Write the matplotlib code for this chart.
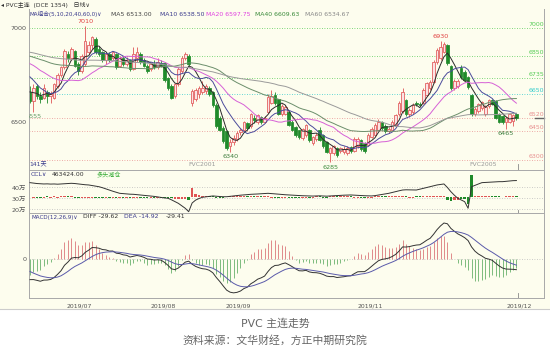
import numpy as np
import pandas as pd
import matplotlib
matplotlib.use('Agg')
import matplotlib.pyplot as plt
from matplotlib.lines import Line2D
from matplotlib.patches import Rectangle

plt.rcParams['font.family'] = ['DejaVu Sans', 'Noto Sans CJK SC']

# ---------------- data ----------------
opens = [6660, 6610, 6690, 6640, 6630, 6660, 6640, 6630, 6690, 6750,
         6790, 6860, 6840, 6880, 6810, 6770, 6810, 6870, 6910, 6940,
         6890, 6870, 6830, 6860, 6840, 6860, 6800, 6840, 6810, 6830,
         6780, 6840, 6860, 6830, 6800, 6780, 6810, 6790, 6815, 6815,
         6735, 6690, 6640, 6700, 6770, 6840, 6850, 6600, 6620, 6650,
         6660, 6665, 6680, 6660, 6590, 6520, 6470, 6450, 6370, 6395,
         6410, 6445, 6455, 6495, 6480, 6520, 6500, 6525, 6500, 6555,
         6600, 6645, 6620, 6540, 6545, 6555, 6500, 6475, 6455, 6415,
         6430, 6460, 6390, 6410, 6455, 6430, 6395, 6335, 6335, 6360,
         6345, 6340, 6335, 6365, 6345, 6370, 6405, 6390, 6380, 6420,
         6430, 6460, 6500, 6480, 6450, 6460, 6485, 6540, 6560, 6615,
         6540, 6555, 6600, 6598, 6600, 6645, 6680, 6715, 6820, 6840,
         6875, 6910, 6800, 6680, 6690, 6785, 6765, 6740, 6645, 6540,
         6560, 6575, 6540, 6585, 6615, 6610, 6545, 6530, 6500, 6500,
         6505, 6545]
highs = [6690, 6700, 6700, 6660, 6700, 6670, 6665, 6710, 6760, 6800,
         6890, 6880, 6900, 6885, 6820, 6860, 7010, 6930, 6960, 6950,
         6905, 6880, 6870, 6875, 6880, 6865, 6850, 6850, 6845, 6835,
         6900, 6900, 6870, 6840, 6810, 6820, 6830, 6840, 6830, 6820,
         6740, 6700, 6710, 6790, 6850, 6870, 6860, 6675, 6680, 6690,
         6720, 6700, 6690, 6665, 6600, 6530, 6480, 6455, 6410, 6430,
         6450, 6470, 6505, 6500, 6550, 6535, 6545, 6530, 6530, 6650,
         6670, 6660, 6625, 6595, 6590, 6560, 6510, 6480, 6460, 6470,
         6490, 6465, 6425, 6440, 6475, 6435, 6400, 6365, 6380, 6365,
         6365, 6370, 6370, 6375, 6420, 6420, 6410, 6395, 6440, 6475,
         6495, 6515, 6505, 6490, 6475, 6510, 6545, 6610, 6680, 6625,
         6575, 6600, 6610, 6605, 6680, 6715, 6725, 6830, 6895, 6930,
         6925, 6915, 6805, 6730, 6730, 6805, 6775, 6745, 6650, 6580,
         6600, 6610, 6590, 6620, 6625, 6615, 6550, 6535, 6530, 6545,
         6540, 6550]
lows = [6600, 6555, 6620, 6600, 6620, 6600, 6600, 6620, 6680, 6740,
        6780, 6820, 6830, 6790, 6750, 6760, 6800, 6860, 6890, 6860,
        6850, 6820, 6810, 6820, 6830, 6780, 6790, 6800, 6800, 6770,
        6775, 6820, 6810, 6790, 6760, 6770, 6780, 6780, 6790, 6715,
        6670, 6620, 6630, 6690, 6760, 6830, 6800, 6585, 6610, 6630,
        6650, 6650, 6640, 6580, 6470, 6450, 6390, 6350, 6340, 6380,
        6400, 6430, 6445, 6460, 6470, 6495, 6490, 6490, 6495, 6550,
        6595, 6590, 6535, 6530, 6535, 6480, 6450, 6420, 6410, 6405,
        6420, 6395, 6380, 6400, 6400, 6360, 6335, 6285, 6325, 6315,
        6335, 6330, 6325, 6335, 6340, 6360, 6345, 6335, 6375, 6415,
        6425, 6455, 6460, 6440, 6440, 6455, 6480, 6530, 6550, 6530,
        6525, 6545, 6585, 6585, 6595, 6640, 6670, 6705, 6810, 6830,
        6865, 6805, 6670, 6670, 6680, 6730, 6715, 6675, 6530, 6530,
        6550, 6565, 6530, 6575, 6590, 6515, 6495, 6490, 6465, 6495,
        6480, 6510]
closes = [6610, 6680, 6640, 6620, 6680, 6640, 6650, 6700, 6750, 6790,
          6880, 6840, 6890, 6800, 6770, 6850, 6930, 6910, 6950, 6870,
          6860, 6830, 6860, 6830, 6870, 6790, 6840, 6810, 6830, 6780,
          6860, 6870, 6820, 6800, 6770, 6810, 6790, 6820, 6800, 6725,
          6680, 6630, 6700, 6780, 6840, 6860, 6810, 6665, 6670, 6680,
          6680, 6690, 6650, 6590, 6480, 6460, 6400, 6360, 6395, 6415,
          6440, 6460, 6500, 6470, 6540, 6510, 6535, 6500, 6520, 6635,
          6640, 6600, 6545, 6585, 6580, 6485, 6457, 6430, 6420, 6465,
          6485, 6405, 6420, 6430, 6405, 6370, 6340, 6360, 6370, 6325,
          6360, 6355, 6360, 6345, 6410, 6410, 6355, 6345, 6430, 6465,
          6485, 6500, 6470, 6450, 6465, 6500, 6535, 6600, 6660, 6540,
          6565, 6590, 6595, 6592, 6670, 6705, 6715, 6820, 6885, 6900,
          6915, 6815, 6680, 6720, 6720, 6740, 6725, 6685, 6540, 6570,
          6595, 6605, 6580, 6615, 6595, 6520, 6500, 6500, 6520, 6540,
          6535, 6520]
# closes before the visible window (estimated), only used to start the MAs / MACD
history_closes = [6880, 6900, 6920, 6940, 6930, 6910, 6890, 6900, 6920, 6950,
                  6960, 6940, 6920, 6900, 6890, 6880, 6900, 6920, 6910, 6890,
                  6900, 6880, 6870, 6890, 6910, 6920, 6900, 6880, 6890, 6900,
                  6910, 6890, 6870, 6880, 6900, 6890, 6880, 6870, 6890, 6880,
                  6870, 6890, 6900, 6880, 6870, 6890, 6880, 6870, 6880, 6870,
                  6860, 6850, 6820, 6800, 6770, 6700, 6660, 6680, 6650]
# open interest (10k lots)
ccl = [44.4, 44.0, 43.6, 43.4, 43.2, 43.3, 43.1, 43.2, 43.0, 43.2,
       43.5, 43.7, 43.8, 43.6, 43.2, 42.9, 42.5, 42.3, 41.8, 41.2,
       40.7, 39.8, 38.7, 37.7, 36.6, 35.6, 34.7, 34.4, 34.1, 33.9,
       33.8, 33.5, 33.2, 32.9, 32.6, 32.3, 31.9, 31.4, 30.9, 30.5,
       30.2, 28.8, 27.2, 25.6, 23.4, 21.1, 18.0, 25.9, 28.5, 30.0,
       31.1, 31.5, 31.9, 32.3, 32.0, 31.8, 31.6, 31.6, 31.9, 32.3,
       32.7, 33.0, 33.2, 33.5, 33.8, 33.9, 34.1, 34.3, 34.5, 34.7,
       34.5, 34.2, 33.9, 33.6, 33.4, 33.2, 33.0, 32.8, 32.7, 32.5,
       32.4, 32.3, 32.2, 32.3, 32.4, 32.2, 32.1, 32.3, 32.5, 32.7,
       32.9, 33.0, 33.1, 33.2, 33.0, 32.8, 32.6, 32.5, 32.4, 32.3,
       32.6, 33.1, 33.6, 34.2, 34.7, 35.5, 36.3, 37.0, 37.7, 37.9,
       37.8, 37.6, 37.7, 38.4, 39.2, 40.0, 40.7, 41.5, 42.3, 42.8,
       43.2, 40.0, 36.2, 33.0, 30.2, 28.7, 27.1, 21.1, 40.7, 42.0,
       43.2, 44.4, 44.6, 44.8, 45.0, 45.2, 45.3, 45.3, 45.6, 45.9,
       46.2, 46.3]

price_levels = [7000, 6850, 6735, 6650, 6520, 6450, 6300]
level_colors = ['#55cc55', '#55cc55', '#55cc55', '#33cccc', '#e89090', '#e89090', '#e89090']
date_labels = ['2019/07', '2019/08', '2019/09', '2019/11', '2019/12']
date_pos = [14.2, 38.5, 60.3, 98.6, 141.7]
ma_periods = [5, 10, 20, 40, 60]
ma_colors = ['#2b2b2b', '#4b4b9b', '#d660d6', '#6b8e6b', '#9a9a9a']
header_ma = [('MA组合(5,10,20,40,60,0)∨', 30, '#3a3a8c'), ('MA5 6513.00', 111, '#444444'),
             ('MA10 6538.50', 160, '#3a3a8c'), ('MA20 6597.75', 206, '#e040e0'),
             ('MA40 6609.63', 255, '#3a8a3a'), ('MA60 6534.67', 305, '#888888')]

# ---------------- layout ----------------
W, H = 550, 347
fig = plt.figure(figsize=(W / 100, H / 100), dpi=100)
fig.patch.set_facecolor('white')
BG = '#fdfdee'
fig.patches.append(Rectangle((0, 1 - 309 / H), 1, 309 / H, transform=fig.transFigure,
                             facecolor=BG, edgecolor='none', zorder=-5))


def rect(x0, y0, x1, y1):
    return [x0 / W, 1 - y1 / H, (x1 - x0) / W, (y1 - y0) / H]


def ftext(x, y, s, **kw):
    kw.setdefault('fontsize', 4.4)
    kw.setdefault('va', 'center')
    fig.text(x / W, 1 - y / H, s, **kw)


n = len(closes)
x = np.arange(n)
o = np.array(opens, float); h = np.array(highs, float)
l = np.array(lows, float); c = np.array(closes, float)
XL = (-0.29, 149.0)
FRAME = '#a8a8a8'
TICKC = '#555555'

all_c = pd.Series(history_closes + closes, dtype=float)
nh = len(history_closes)

axes = []
for r in [rect(29, 9, 544, 170), rect(29, 170, 544, 213), rect(29, 213, 544, 298)]:
    a = fig.add_axes(r, zorder=2)
    a.set_facecolor('none')
    a.patch.set_alpha(0)
    a.set_xlim(*XL)
    for sp in a.spines.values():
        sp.set_color(FRAME)
        sp.set_linewidth(0.7)
    a.spines['top'].set_visible(False)
    a.tick_params(axis='both', length=0, labelsize=4.6, colors=TICKC, pad=2)
    a.set_xticks([])
    axes.append(a)
ax, axc, axm = axes

# ---------------- main price panel ----------------
ax.set_ylim(6244.7, 7101.1)
for lv, col in zip(price_levels, level_colors):
    ax.axhline(lv, color=col, lw=0.6, ls=(0, (1, 2)), zorder=1)
    ax.text(1.0, lv + 5, str(lv), transform=ax.get_yaxis_transform(), ha='right', va='bottom',
            fontsize=4.5, color=col, clip_on=False)
ax.set_yticks([6500, 7000])

up = c >= o
UPC, DNC = '#e05555', '#1f8a2a'
cols = np.where(up, UPC, DNC)
faces = np.where(up, '#fbe3e3', DNC)
blo = np.minimum(o, c); bhi = np.maximum(o, c)
ax.vlines(x, l, blo, colors=cols, lw=0.6, zorder=2)
ax.vlines(x, bhi, h, colors=cols, lw=0.6, zorder=2)
ax.bar(x, np.maximum(bhi - blo, 2.0), bottom=blo, width=0.74, color=faces,
       edgecolor=cols, linewidth=0.55, zorder=2)

for p, col in zip(ma_periods, ma_colors):
    ma = all_c.rolling(p).mean().values[nh:]
    ax.plot(x, ma, color=col, lw=0.7, zorder=3)


def mark(i, val, below, col):
    ax.annotate(str(int(val)), (i, val), xytext=(0, -1.5 if below else 1.5), textcoords='offset points',
                ha='center', va='top' if below else 'bottom', fontsize=4.6, color=col,
                annotation_clip=False, clip_on=True)


mark(16, h[16], False, '#e04040')
mark(119, h[119], False, '#e04040')
mark(1, l[1], True, '#669966')
mark(58, l[58], True, '#3d7d3d')
mark(87, l[87], True, '#3d8b3d')
mark(138, l[138], True, '#3d7d3d')

ax.text(50, 0.02, 'FVC2001', transform=ax.get_xaxis_transform(), ha='center', va='bottom',
        fontsize=4.4, color='#999999')
ax.text(131.3, 0.02, 'FVC2005', transform=ax.get_xaxis_transform(), ha='center', va='bottom',
        fontsize=4.4, color='#999999')
ax.plot([141.5, 141.5], [0.0, 0.04], transform=ax.get_xaxis_transform(), color='#888', lw=0.6)
ax.plot([0.982, 1.0], [c[-1]] * 2, transform=ax.get_yaxis_transform(), color='#666', lw=1.0, clip_on=False)

# ---------------- CCL panel ----------------
axc.set_ylim(16.8, 55.9)
for lv in [20, 30, 40]:
    axc.axhline(lv, color='#bbbbbb', lw=0.6, ls=(0, (1, 2)), zorder=1)
axc.set_yticks([20, 30, 40])
axc.set_yticklabels(['20万', '30万', '40万'])
cc = np.array(ccl)
d = np.diff(cc, prepend=cc[0])
disp = np.sign(d) * np.maximum(np.abs(d), 1.0)
axc.bar(x, disp, bottom=31.4, width=0.7, color=cols, linewidth=0, zorder=2)
axc.plot(x, cc, color='#333333', lw=0.7, zorder=3)
axc.plot([141.5, 141.5], [0.0, 0.08], transform=axc.get_xaxis_transform(), color='#888', lw=0.6)

# ---------------- MACD panel ----------------
ema12 = all_c.ewm(span=12, adjust=False).mean()
ema26 = all_c.ewm(span=26, adjust=False).mean()
diff = (ema12 - ema26)
dea = diff.ewm(span=9, adjust=False).mean()
hist = 2 * (diff - dea)
diff = diff.values[nh:]; dea = dea.values[nh:]; hist = hist.values[nh:]
s = min(36.0 / np.max(diff), 38.0 / abs(np.min(diff)))
axm.set_ylim(-39.0 / s, 46.0 / s)
axm.axhline(0, color='#bbbbbb', lw=0.6, ls=(0, (1, 2)), zorder=1)
hcol = np.where(hist >= 0, '#e08a8a', '#7dbb7d')
axm.vlines(x, 0, hist, colors=hcol, lw=0.7, zorder=2)
axm.plot(x, diff, color='#333333', lw=0.7, zorder=3)
axm.plot(x, dea, color='#5a5aaa', lw=0.7, zorder=3)
axm.set_yticks([0])
axm.set_xticks(date_pos)
axm.set_xticklabels(date_labels)
axm.tick_params(axis='x', pad=4, labelsize=4.4)
axm.plot([141.5, 141.5], [0.0, 0.06], transform=axm.get_xaxis_transform(), color='#888', lw=0.6)

# ---------------- texts ----------------
ftext(1, 5, '◂ PVC主连  (DCE 1354)   日线∨', color='#333333', fontsize=4.3)
for s_, xx, col in header_ma:
    ftext(xx, 14, s_, color=col, fontsize=4.1 if xx == 30 else 4.4)
ftext(29, 165, '141天', color='#3a3a8c')
ftext(31, 175, 'CCL∨', color='#3a3a8c')
ftext(52, 175, '463424.00', color='#333333')
ftext(97, 175, '多头减仓', color='#33aa33')
ftext(31, 217, 'MACD(12,26,9)∨', color='#3a3a8c', fontsize=4.1)
ftext(83, 217, 'DIFF -29.62', color='#333333')
ftext(124, 217, 'DEA -14.92', color='#3a3a8c')
ftext(166, 217, '-29.41', color='#333333')

fig.add_artist(Line2D([0, 1], [1 - 309 / H] * 2, color='#cccccc', lw=0.8))
ftext(275, 323, 'PVC 主连走势', ha='center', color='#666666', fontsize=7.8)
ftext(275, 340, '资料来源：文华财经，方正中期研究院', ha='center', color='#666666', fontsize=7.8)

fig.savefig('out.png', dpi=100, facecolor=fig.get_facecolor())
